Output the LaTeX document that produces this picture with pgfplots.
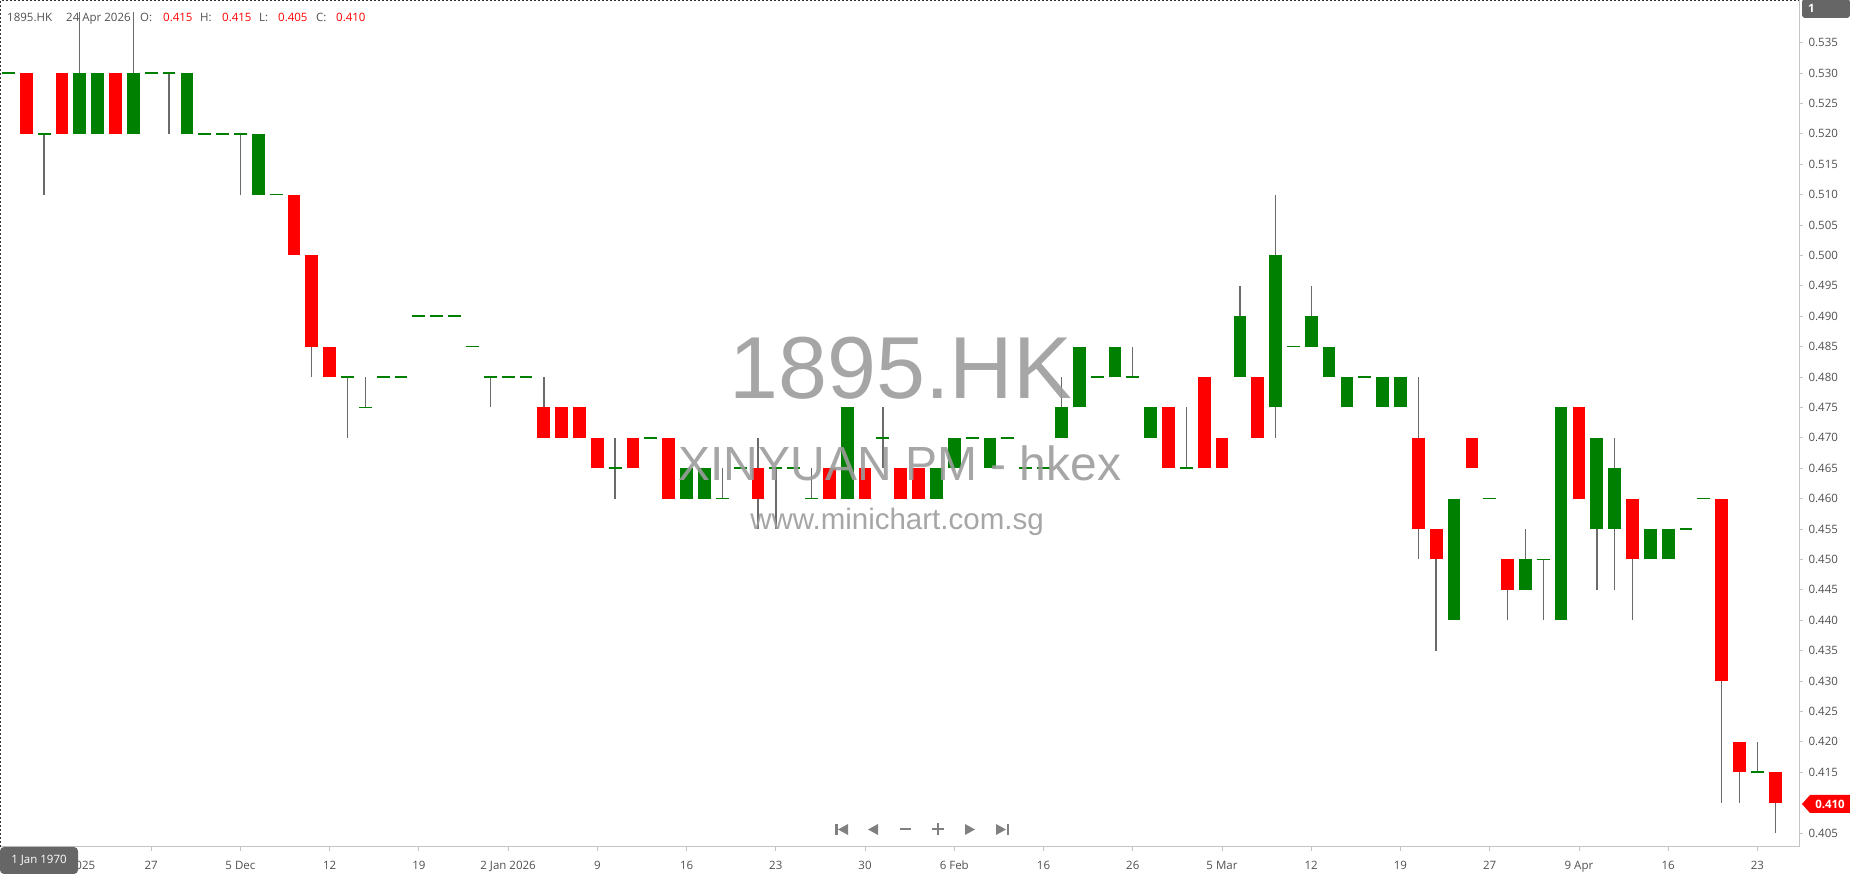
\documentclass[border=0pt]{standalone}
\usepackage{fontspec}
\setmainfont{Open Sans}
\newfontfamily\wmfont{Liberation Sans}
\usepackage{pgfplots}
\usepackage{pgfplotstable}
\pgfplotsset{compat=1.18}

\definecolor{candlered}{HTML}{FF0000}
\definecolor{candlegreen}{HTML}{008000}
\definecolor{wickgray}{HTML}{6A6A6A}
\definecolor{axisgray}{HTML}{C4C4C4}
\definecolor{labelgray}{HTML}{505050}
\definecolor{boxgray}{HTML}{666666}
\definecolor{wmgray}{HTML}{9C9C9C}
\definecolor{navgray}{HTML}{808080}

\newcommand\ui{\fontsize{11.5}{14}\selectfont}

% daily OHLC, 1895.HK
\pgfplotstableread{
i O H L C
0 0.530 0.530 0.530 0.530
1 0.530 0.530 0.520 0.520
2 0.520 0.520 0.510 0.520
3 0.530 0.530 0.520 0.520
4 0.520 0.540 0.520 0.530
5 0.520 0.530 0.520 0.530
6 0.530 0.530 0.520 0.520
7 0.520 0.540 0.520 0.530
8 0.530 0.530 0.530 0.530
9 0.530 0.530 0.520 0.530
10 0.520 0.530 0.520 0.530
11 0.520 0.520 0.520 0.520
12 0.520 0.520 0.520 0.520
13 0.520 0.520 0.510 0.520
14 0.510 0.520 0.510 0.520
15 0.510 0.510 0.510 0.510
16 0.510 0.510 0.500 0.500
17 0.500 0.500 0.480 0.485
18 0.485 0.485 0.480 0.480
19 0.480 0.480 0.470 0.480
20 0.475 0.480 0.475 0.475
21 0.480 0.480 0.480 0.480
22 0.480 0.480 0.480 0.480
23 0.490 0.490 0.490 0.490
24 0.490 0.490 0.490 0.490
25 0.490 0.490 0.490 0.490
26 0.485 0.485 0.485 0.485
27 0.480 0.480 0.475 0.480
28 0.480 0.480 0.480 0.480
29 0.480 0.480 0.480 0.480
30 0.475 0.480 0.470 0.470
31 0.475 0.475 0.470 0.470
32 0.475 0.475 0.470 0.470
33 0.470 0.470 0.465 0.465
34 0.465 0.470 0.460 0.465
35 0.470 0.470 0.465 0.465
36 0.470 0.470 0.470 0.470
37 0.470 0.470 0.460 0.460
38 0.460 0.465 0.460 0.465
39 0.460 0.465 0.460 0.465
40 0.460 0.465 0.460 0.460
41 0.465 0.465 0.465 0.465
42 0.465 0.470 0.455 0.460
43 0.465 0.465 0.455 0.465
44 0.465 0.465 0.465 0.465
45 0.460 0.465 0.460 0.460
46 0.465 0.465 0.460 0.460
47 0.460 0.475 0.460 0.475
48 0.465 0.465 0.460 0.460
49 0.470 0.475 0.465 0.470
50 0.465 0.465 0.460 0.460
51 0.465 0.465 0.460 0.460
52 0.460 0.465 0.460 0.465
53 0.465 0.470 0.465 0.470
54 0.470 0.470 0.470 0.470
55 0.465 0.470 0.465 0.470
56 0.470 0.470 0.470 0.470
57 0.465 0.465 0.465 0.465
58 0.465 0.465 0.465 0.465
59 0.470 0.480 0.470 0.475
60 0.475 0.485 0.475 0.485
61 0.480 0.480 0.480 0.480
62 0.480 0.485 0.480 0.485
63 0.480 0.485 0.480 0.480
64 0.470 0.475 0.470 0.475
65 0.475 0.475 0.465 0.465
66 0.465 0.475 0.465 0.465
67 0.480 0.480 0.465 0.465
68 0.470 0.470 0.465 0.465
69 0.480 0.495 0.480 0.490
70 0.480 0.480 0.470 0.470
71 0.475 0.510 0.470 0.500
72 0.485 0.485 0.485 0.485
73 0.485 0.495 0.485 0.490
74 0.480 0.485 0.480 0.485
75 0.475 0.480 0.475 0.480
76 0.480 0.480 0.480 0.480
77 0.475 0.480 0.475 0.480
78 0.475 0.480 0.475 0.480
79 0.470 0.480 0.450 0.455
80 0.455 0.455 0.435 0.450
81 0.440 0.460 0.440 0.460
82 0.470 0.470 0.465 0.465
83 0.460 0.460 0.460 0.460
84 0.450 0.450 0.440 0.445
85 0.445 0.455 0.445 0.450
86 0.450 0.450 0.440 0.450
87 0.440 0.475 0.440 0.475
88 0.475 0.475 0.460 0.460
89 0.455 0.470 0.445 0.470
90 0.455 0.470 0.445 0.465
91 0.460 0.460 0.440 0.450
92 0.450 0.455 0.450 0.455
93 0.450 0.455 0.450 0.455
94 0.455 0.455 0.455 0.455
95 0.460 0.460 0.460 0.460
96 0.460 0.460 0.410 0.430
97 0.420 0.420 0.410 0.415
98 0.415 0.420 0.415 0.415
99 0.415 0.415 0.405 0.410
}\ohlc

\begin{document}
\begin{tikzpicture}
\useasboundingbox (0pt,-27pt) rectangle (1850pt,847pt);

\begin{axis}[
    at={(0pt,0pt)}, anchor=south west,
    scale only axis, width=1799pt, height=847pt,
    xmin=-0.47, xmax=100.33, ymin=0.4027, ymax=0.5420,
    axis x line*=bottom, axis y line*=right,
    axis line style={draw=axisgray, line width=1pt, -},
    xtick={3,8,...,98},
    xticklabels={20 Nov 2025,27,5 Dec,12,19,2 Jan 2026,9,16,23,30,6 Feb,16,26,5 Mar,12,19,27,9 Apr,16,23},
    ytick={0.405,0.415,0.420,0.425,0.430,0.435,0.440,0.445,0.450,0.455,0.460,0.465,0.470,0.475,0.480,0.485,0.490,0.495,0.500,0.505,0.510,0.515,0.520,0.525,0.530,0.535},
    tick align=outside, major tick length=4pt,
    tick style={draw=axisgray, line width=0.8pt},
    /pgf/number format/assume math mode=true,
    yticklabel style={/pgf/number format/.cd, fixed, fixed zerofill, precision=3, /tikz/.cd, xshift=2pt},
    xticklabel style={anchor=base, yshift=-19pt, text depth=0pt},
    tick label style={font=\ui, text=labelgray},
    clip=true,
]
% wicks
\addplot[draw=none, mark=none, forget plot,
    error bars/.cd, y dir=plus, y explicit, error mark=none,
    error bar style={draw=wickgray, line width=1.4pt}]
    table[x=i, y=L, y error expr=\thisrow{H}-\thisrow{L}] {\ohlc};
% rising bodies
\addplot[draw=none, mark=none, forget plot,
    error bars/.cd, y dir=plus, y explicit, error mark=none,
    error bar style={draw=candlegreen, line width=12.7pt}]
    table[x=i, y=O, y error expr={max(\thisrow{C}-\thisrow{O},0)}] {\ohlc};
% falling bodies
\addplot[draw=none, mark=none, forget plot,
    error bars/.cd, y dir=plus, y explicit, error mark=none,
    error bar style={draw=candlered, line width=12.7pt}]
    table[x=i, y=C, y error expr={max(\thisrow{O}-\thisrow{C},0)}] {\ohlc};
% doji
\addplot[draw=none, mark=none, forget plot,
    restrict expr to domain={abs(\thisrow{O}-\thisrow{C})}{-0.0001:0.0001},
    error bars/.cd, x dir=both, x fixed=0.36, error mark=none,
    error bar style={draw=candlegreen, line width=1.5pt}]
    table[x=i, y=C] {\ohlc};
\end{axis}

% watermark
\node[anchor=base, inner sep=0, text=wmgray, opacity=0.9, font=\wmfont\fontsize{88}{88}\selectfont] at (901pt,448pt) {1895.HK};
\node[anchor=base, inner sep=0, text=wmgray, opacity=0.9, font=\wmfont\fontsize{48}{48}\selectfont] at (900pt,366pt) {XINYUAN PM - hkex};
\node[anchor=base, inner sep=0, text=wmgray, opacity=0.9, font=\wmfont\fontsize{29.5}{30}\selectfont] at (897pt,317pt) {www.minichart.com.sg};

% frame
\draw[black!80, line width=0.8pt, dash pattern=on 2pt off 2pt] (0.5pt,0pt) -- (0.5pt,846.5pt) -- (1799pt,846.5pt);

% header
\begin{scope}[every node/.style={anchor=base west, inner sep=0, font=\ui}]
\node[text=labelgray] at (7pt,825pt) {1895.HK};
\node[text=labelgray] at (66pt,825pt) {24 Apr 2026};
\node[text=labelgray] at (140pt,825pt) {O:};
\node[text=candlered] at (163pt,825pt) {0.415};
\node[text=labelgray] at (200pt,825pt) {H:};
\node[text=candlered] at (222pt,825pt) {0.415};
\node[text=labelgray] at (259pt,825pt) {L:};
\node[text=candlered] at (278pt,825pt) {0.405};
\node[text=labelgray] at (316pt,825pt) {C:};
\node[text=candlered] at (336pt,825pt) {0.410};
\end{scope}

% top-right box
\fill[boxgray, rounded corners=3pt] (1802pt,829pt) rectangle (1850pt,848pt);
\node[anchor=west, inner sep=0, text=white, font=\ui\bfseries] at (1808pt,838.5pt) {1};

% last price tag
\fill[candlered] (1802pt,43pt) -- (1810pt,52pt) -- (1850pt,52pt) -- (1850pt,34pt) -- (1810pt,34pt) -- cycle;
\node[inner sep=0, text=white, font=\ui\bfseries] at (1830pt,43pt) {0.410};

% date box
\fill[boxgray, rounded corners=4pt] (0pt,-27pt) -- (0pt,0pt) -- (78pt,0pt) -- (78pt,-27pt) -- cycle;
\node[inner sep=0, text=white, font=\ui] at (39pt,-13.5pt) {1 Jan 1970};

% navigation buttons
\begin{scope}[fill=navgray]
\fill (835pt,12pt) rectangle (837.5pt,23pt);
\fill (848pt,23pt) -- (838pt,17.5pt) -- (848pt,12pt) -- cycle;
\fill (878pt,23pt) -- (868pt,17.5pt) -- (878pt,12pt) -- cycle;
\fill (900pt,16.5pt) rectangle (911pt,18.5pt);
\fill (932pt,16.5pt) rectangle (944pt,18.5pt);
\fill (937pt,11.5pt) rectangle (939pt,23.5pt);
\fill (965pt,23pt) -- (975pt,17.5pt) -- (965pt,12pt) -- cycle;
\fill (996pt,23pt) -- (1006pt,17.5pt) -- (996pt,12pt) -- cycle;
\fill (1006.5pt,12pt) rectangle (1009pt,23pt);
\end{scope}
\end{tikzpicture}
\end{document}
